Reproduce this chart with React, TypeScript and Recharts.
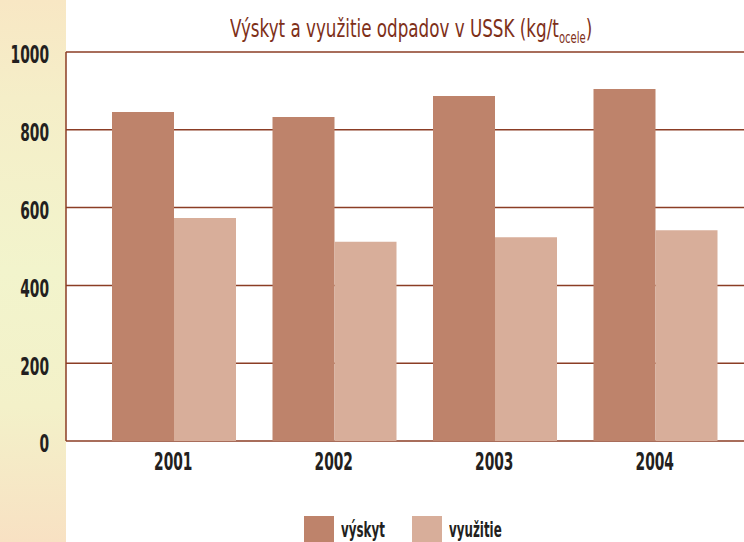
import { BarChart, Bar, XAxis, YAxis, CartesianGrid } from 'recharts'

const years = ['2001', '2002', '2003', '2004']
const vyskyt = [846, 833, 887, 905]
const vyuzitie = [573, 512, 524, 542]
const yTicks = [0, 200, 400, 600, 800, 1000]

const series = [
  { key: 'vyskyt', name: 'výskyt', color: '#be836b' },
  { key: 'vyuzitie', name: 'využitie', color: '#d8ae9a' },
]

const data = years.map((year, i) => ({ year, vyskyt: vyskyt[i], vyuzitie: vyuzitie[i] }))

// no condensed Futura available, so squeeze DejaVu Sans Condensed horizontally
const font = '"DejaVu Sans Condensed", "Liberation Sans Narrow", sans-serif'
const squeeze = 0.64
const gridColor = '#8b3d25'
const textColor = '#231f20'

const YTick = ({ x, y, payload }: any) => (
  <text
    transform={`translate(${x},${y + 3}) scale(${squeeze},1)`}
    textAnchor="end"
    dominantBaseline="central"
    fontSize={24}
    fontWeight="bold"
    fontFamily={font}
    fill={textColor}
  >
    {payload.value}
  </text>
)

const XTick = ({ x, y, payload }: any) => (
  <text
    transform={`translate(${x - 1},${y}) scale(${squeeze},1)`}
    textAnchor="middle"
    dy="0.71em"
    fontSize={24}
    fontWeight="bold"
    fontFamily={font}
    fill={textColor}
  >
    {payload.value}
  </text>
)

export default function App() {
  return (
    <div style={{ position: 'absolute', left: 0, top: 0, width: 744, height: 542, background: '#fff', fontFamily: font, overflow: 'hidden' }}>
      <div
        style={{
          position: 'absolute', left: 0, top: 0, width: 66, height: 542,
          background: 'linear-gradient(to bottom, #f8e7c4 0%, #f5eec8 18%, #f2f4cc 50%, #f3f1c9 75%, #f8e1c3 100%)',
        }}
      />
      <div style={{ position: 'absolute', left: 72, top: 14, width: 678, textAlign: 'center' }}>
        <div
          style={{
            display: 'inline-block', fontSize: 25, color: '#7e3019', whiteSpace: 'nowrap',
            transform: 'scaleX(0.745)', transformOrigin: 'center',
          }}
        >
          Výskyt a využitie odpadov v USSK (kg/t<sub style={{ fontSize: 15 }}>ocele</sub>)
        </div>
      </div>
      <div style={{ position: 'absolute', left: 0, top: 0 }}>
        <BarChart width={744} height={542} data={data} margin={{ top: 52, right: 0, bottom: 0, left: 0 }} barGap={0}>
          <CartesianGrid horizontal vertical={false} stroke={gridColor} strokeWidth={1.5} />
          <XAxis
            dataKey="year"
            height={101}
            axisLine={false}
            tickLine={false}
            tickMargin={6}
            padding={{ left: 28, right: 8 }}
            tick={<XTick />}
          />
          <YAxis
            width={66}
            domain={[0, 1000]}
            ticks={yTicks}
            axisLine={{ stroke: gridColor, strokeWidth: 1.5 }}
            tickLine={false}
            tickMargin={11}
            tick={<YTick />}
          />
          {series.map((s) => (
            <Bar key={s.key} dataKey={s.key} name={s.name} fill={s.color} barSize={62} isAnimationActive={false} />
          ))}
        </BarChart>
      </div>
      {series.map((s, i) => (
        <div key={s.key} style={{ position: 'absolute', left: 304 + i * 108, top: 516, height: 26, display: 'flex', alignItems: 'center' }}>
          <div style={{ width: 30, height: 26, background: s.color }} />
          <span
            style={{
              marginLeft: 7, fontSize: 22, fontWeight: 'bold', color: textColor, whiteSpace: 'nowrap',
              display: 'inline-block', transform: 'scaleX(0.6)', transformOrigin: 'left center',
            }}
          >
            {s.name}
          </span>
        </div>
      ))}
    </div>
  )
}
